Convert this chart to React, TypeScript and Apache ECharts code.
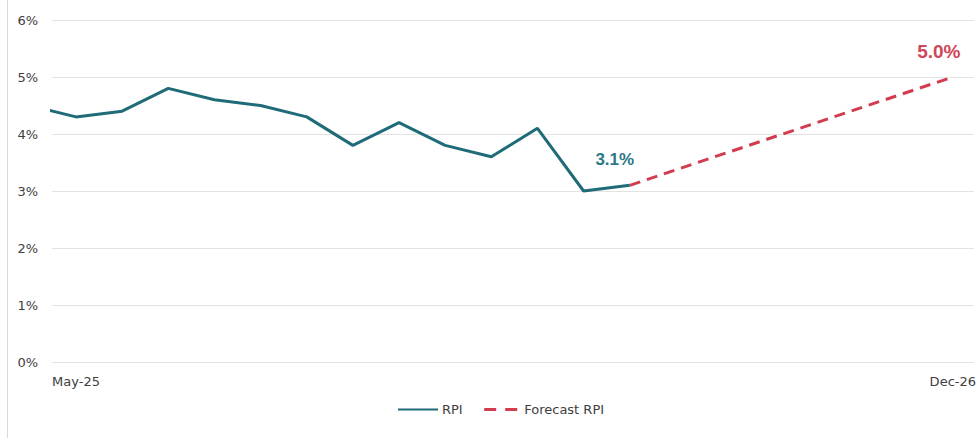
import React, { useEffect, useRef } from "react";
import * as echarts from "echarts";

// Months indexed from May-25 = 0; Apr-25 (index -1) is clipped by the axis start
const rpiMonths = ["Apr-25", "May-25", "Jun-25", "Jul-25", "Aug-25", "Sep-25", "Oct-25", "Nov-25", "Dec-25", "Jan-26", "Feb-26", "Mar-26", "Apr-26", "May-26"];
const rpiValues = [4.5, 4.3, 4.4, 4.8, 4.6, 4.5, 4.3, 3.8, 4.2, 3.8, 3.6, 4.1, 3.0, 3.1];
const forecastMonths = ["May-26", "Dec-26"];
const forecastValues = [3.1, 5.0];
const xTickLabels = ["May-25", "Dec-26"];
const yTicks = [0, 1, 2, 3, 4, 5, 6];

const monthIndex = (m: string) => {
  const names = ["Jan", "Feb", "Mar", "Apr", "May", "Jun", "Jul", "Aug", "Sep", "Oct", "Nov", "Dec"];
  const [mon, yr] = m.split("-");
  return (parseInt(yr, 10) - 25) * 12 + names.indexOf(mon) - 4;
};

const TEAL = "#1f6b78";
const RED = "#d13c4e";
const AXIS_FONT = "DejaVu Sans, Noto Sans, sans-serif";

export default function App() {
  const ref = useRef<HTMLDivElement>(null);
  useEffect(() => {
    if (!ref.current) return;
    const chart = echarts.init(ref.current, null, { renderer: "svg" });
    const mkPoint = (x: number, y: number, color: string, offset: number[], fontSize: number) => ({
      coord: [x, y],
      value: y.toFixed(1) + "%",
      symbol: "circle",
      symbolSize: 2,
      itemStyle: { color: "rgba(0,0,0,0)", borderWidth: 0 },
      label: {
        show: true,
        position: "top",
        distance: 5,
        offset,
        formatter: (p: any) => p.value,
        color,
        fontSize,
        fontWeight: "bold",
        fontFamily: "Liberation Sans, Arial, sans-serif",
      },
    });
    const rpiData = rpiMonths.map((m, i) => [monthIndex(m), rpiValues[i]]);
    const fcData = forecastMonths.map((m, i) => [monthIndex(m), forecastValues[i]]);
    const rpiLast = rpiData[rpiData.length - 1];
    const fcLast = fcData[fcData.length - 1];
    const lastIdx = monthIndex(xTickLabels[xTickLabels.length - 1]);
    chart.setOption({
      animation: false,
      textStyle: { fontFamily: AXIS_FONT },
      grid: { left: 52, right: 4, top: 20, bottom: 76, containLabel: false },
      graphic: [
        {
          type: "line",
          shape: { x1: 7.5, y1: 0, x2: 7.5, y2: 438 },
          style: { stroke: "#d9d9d9", lineWidth: 1 },
        },
      ],
      xAxis: {
        type: "value",
        min: -0.52,
        max: 19.46,
        splitLine: { show: false },
        axisLine: { show: false },
        axisTick: { show: false },
        axisLabel: {
          customValues: xTickLabels.map(monthIndex),
          formatter: (v: number) => (v === 0 ? xTickLabels[0] : v === lastIdx ? xTickLabels[1] : ""),
          color: "#404040",
          fontSize: 13,
          fontFamily: AXIS_FONT,
          margin: 13,
          showMinLabel: true,
          showMaxLabel: true,
        },
      },
      yAxis: {
        type: "value",
        min: yTicks[0],
        max: yTicks[yTicks.length - 1],
        interval: 1,
        axisLine: { show: false },
        axisTick: { show: false },
        splitLine: { lineStyle: { color: "#e3e3e3", width: 1 } },
        axisLabel: { formatter: "{value}%", color: "#404040", fontSize: 13, fontFamily: AXIS_FONT, margin: 14 },
      },
      legend: {
        top: 403,
        left: 397,
        padding: 0,
        itemWidth: 40,
        itemHeight: 3,
        itemGap: 16,
        itemStyle: { opacity: 0 },
        textStyle: { color: "#404040", fontSize: 13, fontFamily: AXIS_FONT, padding: [0, 0, 0, -1] },
        data: [
          { name: "RPI" },
          { name: "Forecast RPI", lineStyle: { color: RED, width: 3, type: [12, 9], dashOffset: -4 } },
        ],
      },
      series: [
        {
          name: "RPI",
          type: "line",
          data: rpiData,
          symbol: "none",
          clip: true,
          lineStyle: { color: TEAL, width: 3 },
          itemStyle: { color: TEAL },
          markPoint: { silent: true, data: [mkPoint(rpiLast[0], rpiLast[1], "#2a7786", [-15, -11], 17)] },
          z: 3,
        },
        {
          name: "Forecast RPI",
          type: "line",
          data: fcData,
          symbol: "none",
          clip: true,
          lineStyle: { color: RED, width: 3, type: [11, 7] },
          itemStyle: { color: RED },
          markPoint: { silent: true, data: [mkPoint(fcLast[0], fcLast[1], "#cf4659", [-14, -10], 19)] },
          z: 2,
        },
      ],
    });
    return () => chart.dispose();
  }, []);
  return (
    <div
      ref={ref}
      style={{ position: "fixed", left: 0, top: 0, width: 979, height: 438, background: "#fff" }}
    />
  );
}
